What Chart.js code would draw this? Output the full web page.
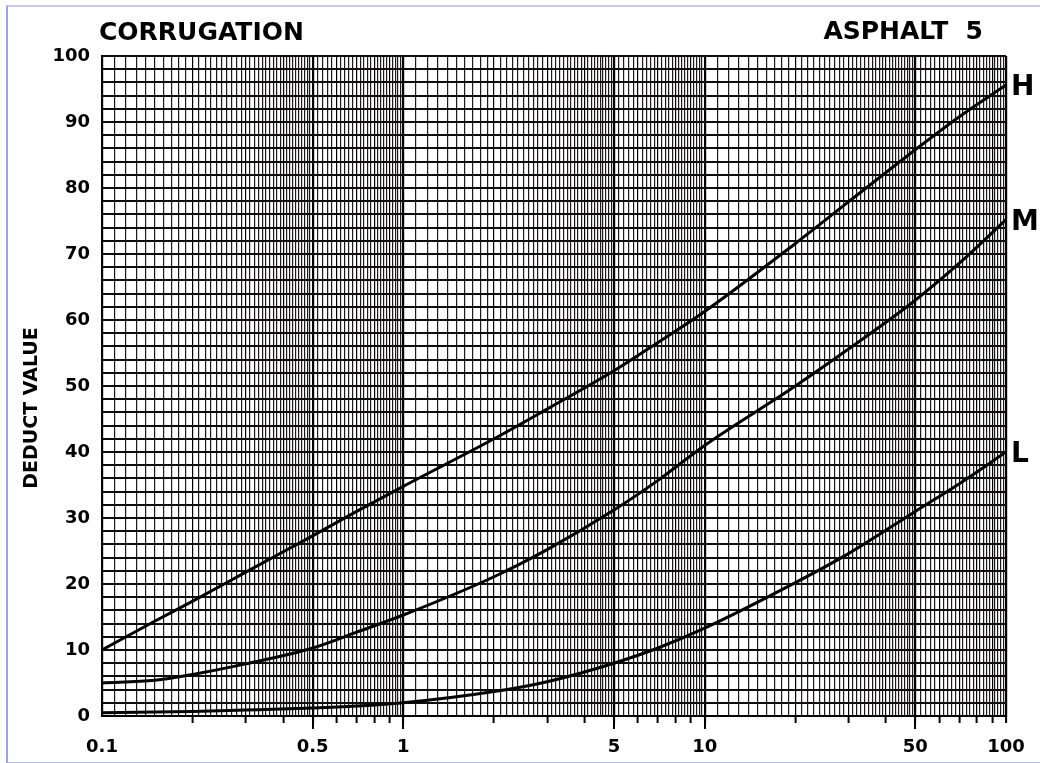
<!DOCTYPE html>
<html>
<head>
<meta charset="utf-8">
<script src="https://cdn.jsdelivr.net/npm/chart.js@4.4.1/dist/chart.umd.min.js"></script>
<style>
  html, body { margin: 0; padding: 0; background: #fff; }
  #wrap { position: relative; width: 1040px; height: 763px; overflow: hidden; background: #fff; }
  #frame { position: absolute; left: 6px; top: 5px; width: 1060px; height: 755px;
           border-left: 2px solid #9da0ee; border-top: 2px solid #c9cbf4; border-bottom: 2px solid #b9bcf2; }
  canvas { position: absolute; left: 0; top: 0; }
</style>
</head>
<body>
<div id="wrap">
  <div id="frame"></div>
  <canvas id="c" width="1040" height="763"></canvas>
</div>
<script>
// ---- data ----
const xPoints   = [0.1, 0.15, 0.2, 0.3, 0.5, 0.7, 1, 2, 3, 5, 7, 10, 20, 30, 50, 70, 100];
const highVals  = [10, 14.4, 17.4, 21.8, 27.3, 31, 34.8, 42.0, 46.5, 52.3, 56.6, 61.3, 71.6, 77.9, 85.8, 90.8, 95.6];
const medVals   = [5, 5.4, 6.3, 7.9, 10.3, 12.7, 15.3, 21.1, 25.2, 31.2, 35.7, 41, 50.0, 55.6, 63.0, 68.6, 75.2];
const lowVals   = [0.5, 0.6, 0.7, 0.9, 1.2, 1.5, 2, 3.7, 5.2, 8, 10.3, 13.3, 20.2, 24.6, 31, 35.2, 40];
const seriesNames = ['H', 'M', 'L'];
const xTickLabels = [0.1, 0.5, 1, 5, 10, 50, 100];
const yTickLabels = [0, 10, 20, 30, 40, 50, 60, 70, 80, 90, 100];
const longTicks   = [0.5, 1, 5, 10, 50];
const titleLeft  = 'CORRUGATION';
const titleRight = 'ASPHALT  5';
const yTitle     = 'DEDUCT VALUE';

// log-paper vertical rulings
function paperValues() {
  const v = [];
  for (const d of [0.1, 1, 10]) {
    for (let i = 10; i < 50; i++) v.push(+(i / 10 * d).toFixed(4));
    for (let i = 50; i < 100; i += 2) v.push(+(i / 10 * d).toFixed(4));
  }
  v.push(100);
  return v;
}
const gridX = paperValues();
function mant(v) { const m = v / Math.pow(10, Math.floor(Math.log10(v) + 1e-9)); return +m.toFixed(4); }
function isInt(m) { return Math.abs(m - Math.round(m)) < 1e-6; }

const mk = (vals) => xPoints.map((x, i) => ({ x: x, y: vals[i] }));

const textPlugin = {
  id: 'texts',
  afterDraw(chart) {
    const c = chart.ctx, xs = chart.scales.x, ys = chart.scales.y, ca = chart.chartArea;
    c.save();
    c.strokeStyle = '#000'; c.lineWidth = 2;
    for (const v of longTicks) {
      const px = Math.round(xs.getPixelForValue(v));
      c.beginPath(); c.moveTo(px, ca.bottom); c.lineTo(px, ca.bottom + 13); c.stroke();
    }
    c.fillStyle = '#000';
    c.font = 'bold 25px "DejaVu Sans"';
    c.textBaseline = 'middle';
    c.textAlign = 'left';
    c.fillText(titleLeft, 99, 33);
    c.textAlign = 'right';
    c.fillText(titleRight, 983, 32);
    c.font = 'bold 28px "DejaVu Sans"';
    c.textAlign = 'left';
    const ends = [highVals, medVals, lowVals];
    ends.forEach((arr, i) => {
      c.fillText(seriesNames[i], ca.right + 5, ys.getPixelForValue(arr[arr.length - 1]) + 3);
    });
    c.font = 'bold 19px "DejaVu Sans"';
    c.translate(32, 408);
    c.rotate(-Math.PI / 2);
    c.textAlign = 'center';
    c.fillText(yTitle, 0, 0);
    c.restore();
  }
};

new Chart(document.getElementById('c'), {
  type: 'line',
  data: {
    datasets: [highVals, medVals, lowVals].map((vals, i) => ({
      label: seriesNames[i],
      data: mk(vals),
      borderColor: '#000',
      borderWidth: 3,
      pointRadius: 0,
      cubicInterpolationMode: 'monotone',
      fill: false
    }))
  },
  options: {
    responsive: false,
    animation: false,
    layout: { padding: { top: 56, right: 34, left: 0, bottom: 0 } },
    plugins: { legend: { display: false }, tooltip: { enabled: false }, title: { display: false } },
    scales: {
      x: {
        type: 'logarithmic',
        min: 0.1, max: 100,
        afterBuildTicks: (s) => { s.ticks = gridX.map(v => ({ value: v })); },
        afterFit: (s) => { s.height = 47; },
        border: { display: true, color: '#000', width: 2 },
        grid: {
          drawOnChartArea: true,
          tickLength: 7,
          color: (ctx) => {
            const v = ctx.tick && ctx.tick.value; if (!v) return '#1a1a1a';
            const m = mant(v);
            return isInt(m) ? '#000' : '#1e1a1a';
          },
          lineWidth: (ctx) => {
            const v = ctx.tick && ctx.tick.value; if (!v) return 1.2;
            const m = mant(v);
            if (m === 1 || m === 5) return 2.2;
            return 1.2;
          },
          tickColor: (ctx) => {
            const v = ctx.tick && ctx.tick.value; if (!v) return 'rgba(0,0,0,0)';
            const m = mant(v);
            return (isInt(m) && v > 0.1) ? '#000' : 'rgba(0,0,0,0)';
          },
          tickWidth: 2
        },
        ticks: {
          autoSkip: false,
          maxRotation: 0,
          minRotation: 0,
          padding: 14,
          color: '#000',
          font: { family: '"DejaVu Sans"', weight: 'bold', size: 18 },
          callback: (val) => {
            const hit = xTickLabels.find(t => Math.abs(t - val) < 1e-6);
            return hit !== undefined ? String(hit) : '';
          }
        }
      },
      y: {
        type: 'linear',
        min: 0, max: 100,
        afterFit: (s) => { s.width = 102; },
        border: { display: true, color: '#000', width: 2 },
        grid: { drawTicks: false, color: '#0d0d0d', lineWidth: 2 },
        ticks: {
          stepSize: 2,
          autoSkip: false,
          padding: 12,
          color: '#000',
          font: { family: '"DejaVu Sans"', weight: 'bold', size: 18 },
          callback: (val) => yTickLabels.includes(val) ? String(val) : ''
        }
      }
    }
  },
  plugins: [textPlugin]
});
</script>
</body>
</html>
